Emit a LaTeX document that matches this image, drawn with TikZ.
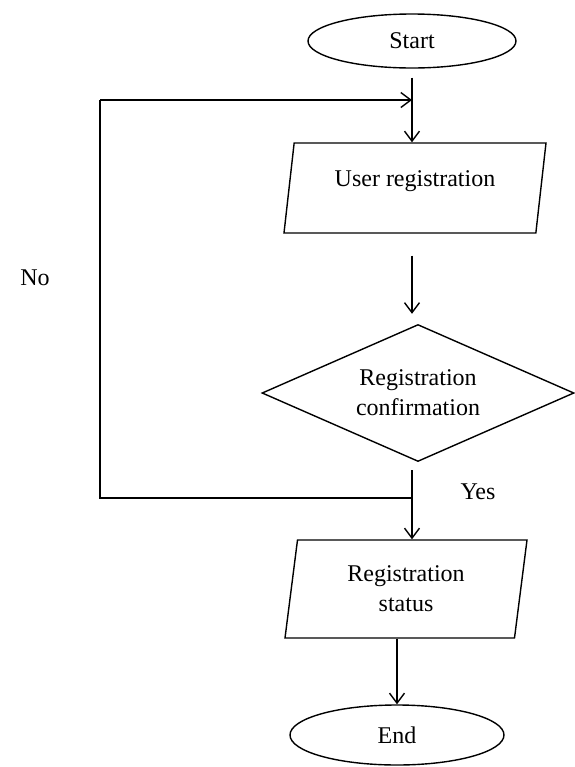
\documentclass[tikz,border=0pt]{standalone}
\usepackage{fontspec}
\setmainfont{Liberation Serif}
\usetikzlibrary{shapes.geometric,arrows.meta,calc}

\begin{document}
\begin{tikzpicture}[x=0.5pt, y=-0.5pt,
  every node/.style={font=\rmfamily\fontsize{12}{15}\selectfont},
  terminal/.style={draw, ellipse, line width=0.7pt, inner sep=0pt},
  io/.style={draw, trapezium, trapezium stretches body, line width=0.7pt, align=center, inner sep=1pt},
  decision/.style={draw, diamond, aspect=2.28, line width=0.7pt, align=center, inner sep=1pt},
  arr/.style={line width=0.7pt, -{Straight Barb[length=5pt, width=7.5pt]}},
  line/.style={line width=0.7pt}]
\useasboundingbox (0,0) rectangle (574,767);
\node[terminal, minimum width=104pt, minimum height=27pt] (start) at (412,41) {Start};
\node[io, trapezium left angle=75, trapezium right angle=105, minimum width=131pt, minimum height=45pt] (reg) at (415,188) {User registration\\[-6pt]};
\node[decision, minimum width=156pt, minimum height=68.5pt] (conf) at (418,393) {Registration\\confirmation};
\node[io, trapezium left angle=76, trapezium right angle=104, minimum width=121pt, minimum height=49pt] (status) at (406,589) {Registration\\status};
\node[terminal, minimum width=107pt, minimum height=30pt] (end) at (397,735) {End};
\node (no) at (35,278) {No};
\node (yes) at (478,492) {Yes};
\coordinate (split) at (412,498);
\coordinate (loopbot) at (100,498);
\coordinate (looptop) at (100,100);
\coordinate (merge) at (412,100);

\draw[arr, shorten <=4.5pt] (start.south) -- (start |- reg.north);
\draw[arr, shorten <=11pt, shorten >=5pt] (start |- reg.south) -- (start |- conf.north);
\draw[arr, shorten <=4pt] (start |- conf.south) -- (start |- status.north);
\draw[line] (split) -- (loopbot) -- (looptop);
\draw[arr] (looptop) -- (merge);
\draw[arr] (end |- status.south) -- (end.north);
\end{tikzpicture}
\end{document}
